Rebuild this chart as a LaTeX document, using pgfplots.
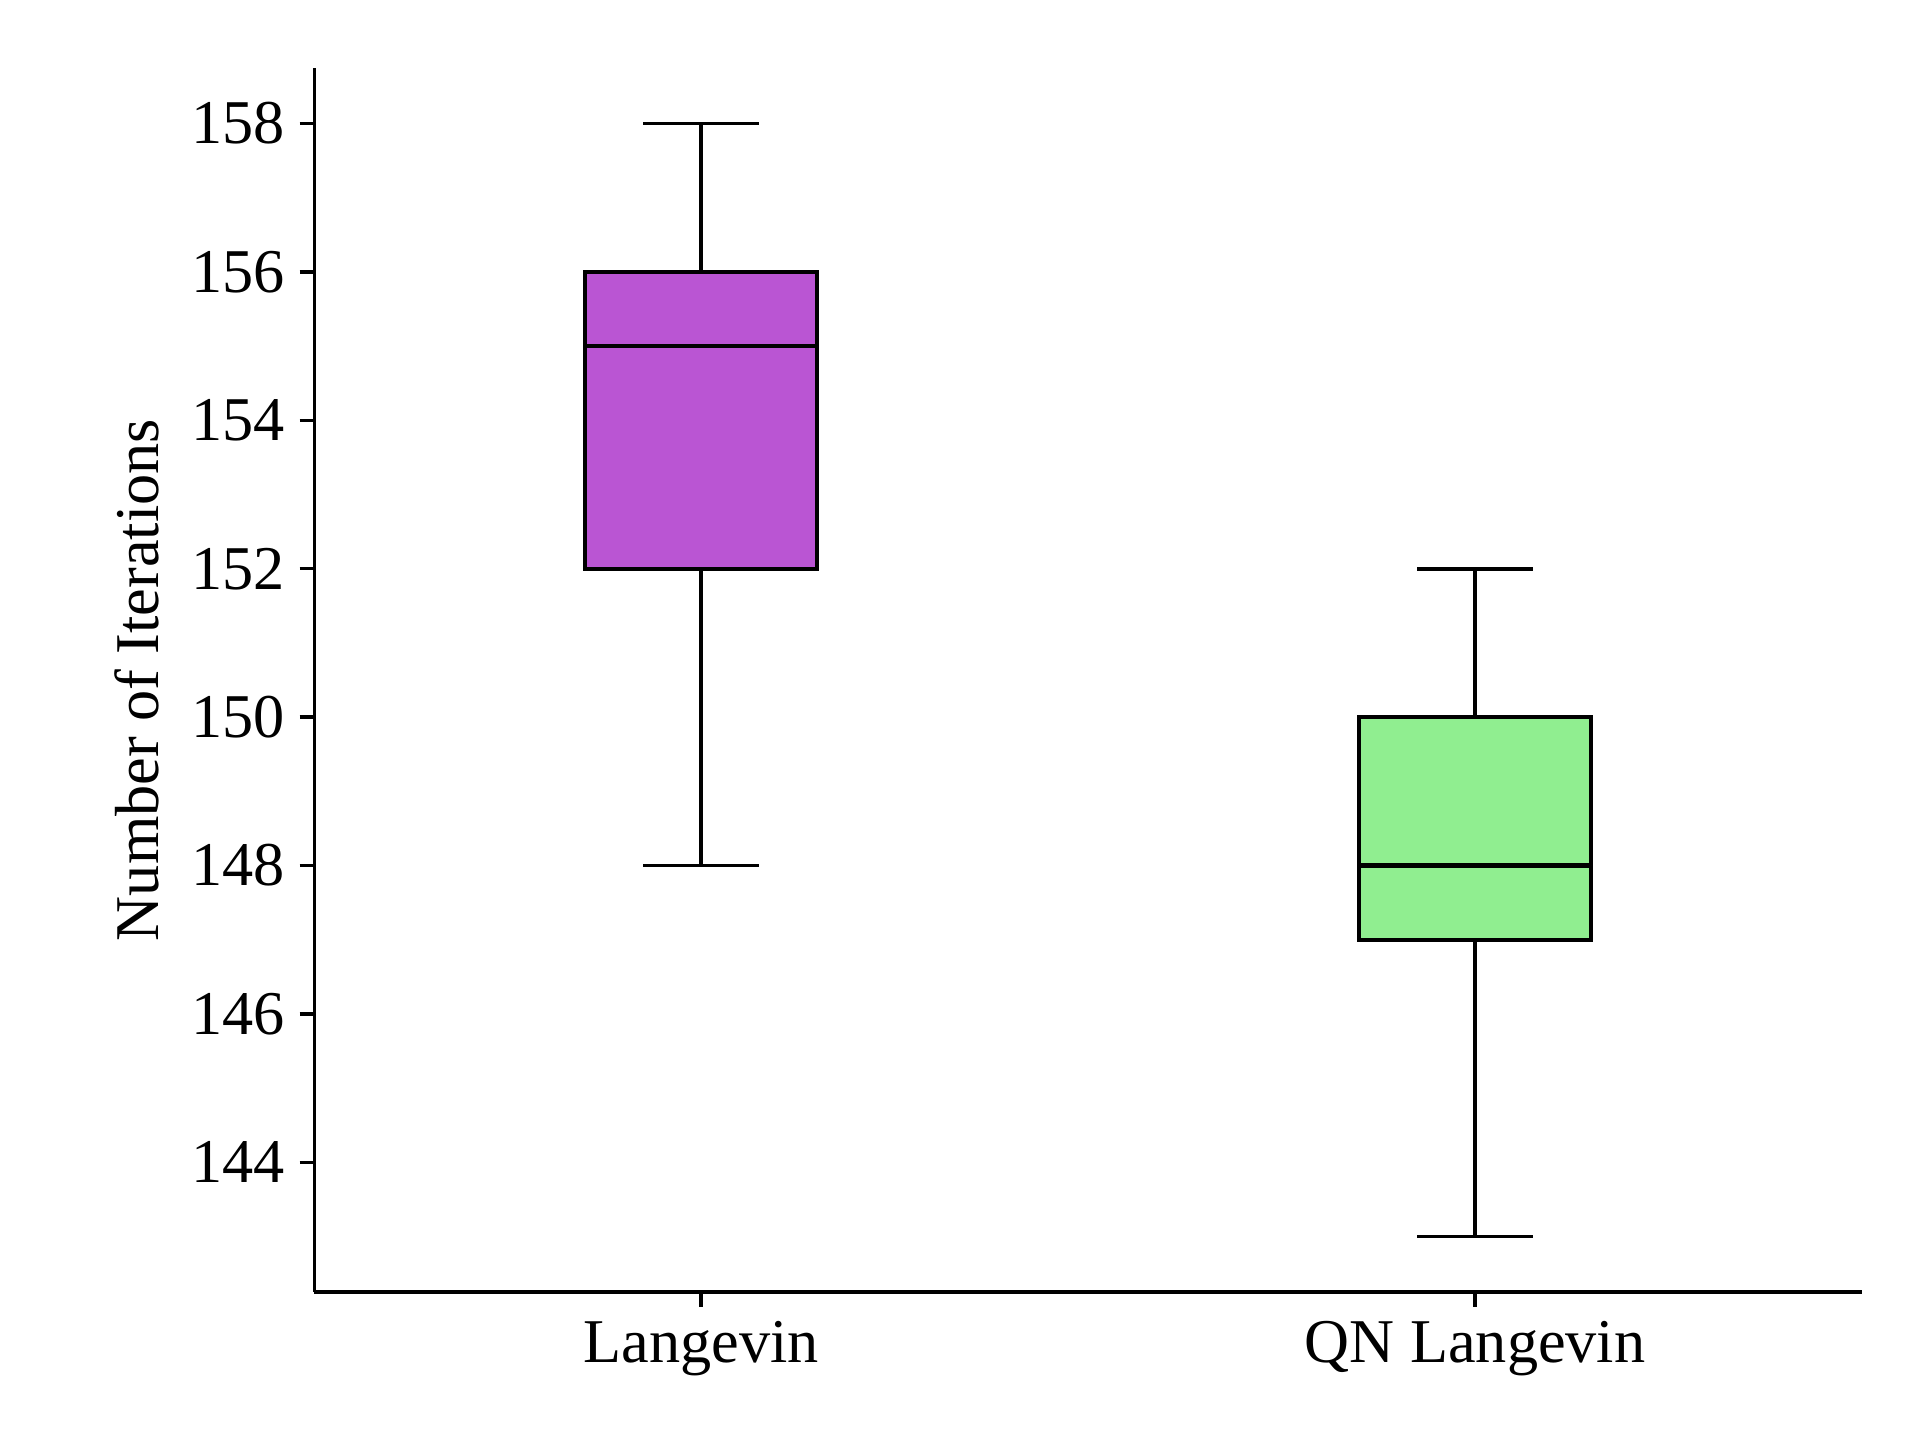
\documentclass[border=0pt]{standalone}
\usepackage{pgfplots}
\pgfplotsset{compat=1.18}
\usepgfplotslibrary{statistics}
\usepackage{fontspec}
\setmainfont{Liberation Serif}
\definecolor{langevin}{HTML}{BA55D3}
\definecolor{qnlangevin}{HTML}{90EE90}

\begin{document}
\begin{tikzpicture}
  \begin{axis}[
    scale only axis,
    width=371.5bp,
    height=293.8bp,
    xmin=0.5, xmax=2.5,
    ymin=142.25, ymax=158.75,
    axis x line*=bottom,
    axis y line*=left,
    axis line style={line width=0.8pt, -},
    xtick={1,2},
    xticklabels={Langevin, QN Langevin},
    ytick={144,146,...,158},
    tick align=outside,
    major tick length=3.5pt,
    tick style={line width=0.8pt, black},
    ticklabel style={font=\fontsize{15}{17}\selectfont},
    /pgf/number format/assume math mode=true,
    /pgf/number format/1000 sep={},
    ylabel={Number of Iterations},
    ylabel style={font=\fontsize{15}{17}\selectfont, yshift=1pt},
    boxplot/draw direction=y,
    clip=false,
  ]
    % Langevin
    \addplot+[
      draw=black, line width=1pt, fill=langevin, mark=none,
      boxplot prepared={
        draw position=1,
        lower whisker=148, lower quartile=152,
        median=155,
        upper quartile=156, upper whisker=158,
        box extend=0.3, whisker extend=0.15,
        every whisker/.style={line width=0.9pt},
        every median/.style={line width=1pt},
      },
    ] coordinates {};
    % QN Langevin
    \addplot+[
      draw=black, line width=1pt, fill=qnlangevin, mark=none,
      boxplot prepared={
        draw position=2,
        lower whisker=143, lower quartile=147,
        median=148,
        upper quartile=150, upper whisker=152,
        box extend=0.3, whisker extend=0.15,
        every whisker/.style={line width=0.9pt},
        every median/.style={line width=1pt},
      },
    ] coordinates {};
  \end{axis}
  \pgfresetboundingbox
  \path (-75.4bp,-35.5bp) rectangle (385.4bp,310.1bp);
\end{tikzpicture}
\end{document}
